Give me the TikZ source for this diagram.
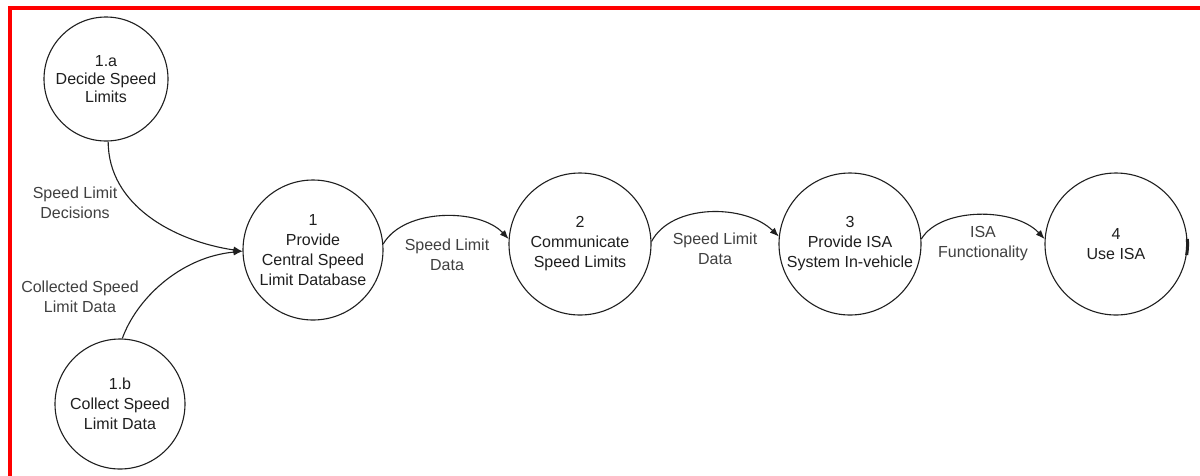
\documentclass[tikz,border=0pt]{standalone}
\usepackage{fontspec}
\setmainfont{Liberation Sans}
\usetikzlibrary{arrows.meta}
\definecolor{ink}{gray}{0.12}
\definecolor{frame}{RGB}{255,0,0}
\tikzset{
  process/.style={circle, draw=ink, line width=1.1pt, align=center, inner sep=0pt,
    text=ink, font=\fontsize{16}{20}\selectfont},
  flow/.style={draw=ink, line width=1.1pt, -{Latex[length=9pt,width=7pt]}},
  flowlabel/.style={align=center, text=ink!85, font=\fontsize{16}{20}\selectfont, inner sep=0pt}
}
\begin{document}
\begin{tikzpicture}[x=1pt,y=-1pt]
\useasboundingbox (0,0) rectangle (1200,475);
\fill[white] (0,0) rectangle (1200,475);
% red frame (top and left edges)
\draw[frame, line width=4pt] (10,480) -- (10,8) -- (1210,8);

% processes
\node[process, minimum size=124pt, font=\fontsize{16}{18}\selectfont] (d1a) at (106,79) {1.a\\Decide Speed\\Limits};
\node[process, minimum size=130pt] (d1b) at (120,404) {1.b\\Collect Speed\\Limit Data};
\node[process, minimum size=140pt] (p1) at (313,250) {1\\Provide\\Central Speed\\Limit Database};
\node[process, minimum size=142pt] (p2) at (580,244) {2\\Communicate\\Speed Limits};
\node[process, minimum size=142pt] (p3) at (850,244) {3\\Provide ISA\\System In-vehicle};
\node[process, minimum size=142pt] (p4) at (1116,244) {4\\Use ISA};

% data flows
\draw[flow] (d1a.-88) .. controls +(0,64) and +(-68,-10) .. (p1.181);
\draw[flow] (d1b.88) .. controls +(14,-39) and +(-63,6) .. (p1.181);
\draw[flow] (p1.5) .. controls +(21,-36) and +(-29,-31) .. (p2.176);
\draw[flow] (p2.2) .. controls +(20,-38) and +(-34,-33) .. (p3.174);
\draw[flow] (p3.4) .. controls +(19,-32) and +(-30,-32) .. (p4.176);

% flow labels
\node[flowlabel] (l1) at (75,203) {Speed Limit\\Decisions};
\node[flowlabel] (l2) at (80,297) {Collected Speed\\Limit Data};
\node[flowlabel] (l3) at (447,255) {Speed Limit\\Data};
\node[flowlabel] (l4) at (715,249) {Speed Limit\\Data};
\node[flowlabel] (l5) at (983,244) {ISA\\Functionality};

% outgoing stub on process 4
\draw[ink, line width=3pt] (p4.4) arc[start angle=4, end angle=-9, radius=71pt];
\end{tikzpicture}
\end{document}
